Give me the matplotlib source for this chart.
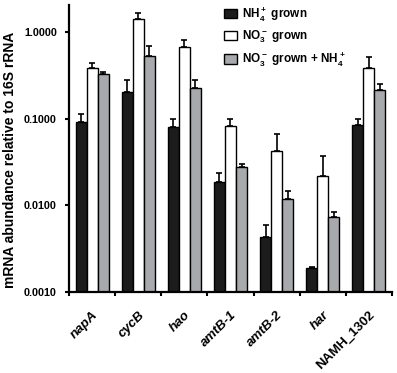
import numpy as np
import matplotlib
matplotlib.use("Agg")
import matplotlib.pyplot as plt

plt.rcParams['font.family'] = ['Liberation Sans', 'DejaVu Sans']
plt.rcParams['font.weight'] = 'bold'
plt.rcParams['mathtext.fontset'] = 'custom'
plt.rcParams['mathtext.bf'] = 'Liberation Sans:bold'
plt.rcParams['mathtext.rm'] = 'Liberation Sans:bold'
plt.rcParams['mathtext.default'] = 'bf'

genes = ['napA', 'cycB', 'hao', 'amtB-1', 'amtB-2', 'har', 'NAMH_1302']
italic = [True, True, True, True, True, True, False]

nh4 = [0.092, 0.203, 0.081, 0.0188, 0.00428, 0.00188, 0.0846]
nh4_err = [0.113, 0.277, 0.100, 0.0234, 0.00594, 0.00193, 0.100]
no3 = [0.388, 1.41, 0.677, 0.0824, 0.0428, 0.0218, 0.388]
no3_err = [0.44, 1.64, 0.808, 0.100, 0.066, 0.037, 0.52]
mix = [0.328, 0.53, 0.224, 0.028, 0.0119, 0.0073, 0.214]
mix_err = [0.343, 0.695, 0.28, 0.030, 0.0147, 0.0084, 0.25]

labels = [r'NH$_4^+$ grown', r'NO$_3^-$ grown', r'NO$_3^-$ grown + NH$_4^+$']
colors = ['#1c1c1c', '#ffffff', '#a7a9ac']

fig = plt.figure(figsize=(3.97, 3.73), dpi=100)
ax = fig.add_axes([0.174, 0.217, 0.813, 0.770])

x = np.arange(len(genes)) + 0.5
w = 0.24
for k, (vals, tops, c, lab) in enumerate(zip([nh4, no3, mix], [nh4_err, no3_err, mix_err], colors, labels)):
    xs = x + (k - 1) * w
    vals = np.array(vals)
    up = np.array(tops) - vals
    ax.bar(xs, vals, width=w, color=c, edgecolor='black', linewidth=1.0,
           label=lab, zorder=2)
    ax.errorbar(xs, vals, yerr=[np.zeros_like(up), up], fmt='none',
                ecolor='black', elinewidth=1.2, capsize=2.5, capthick=1.2, zorder=1)

ax.set_yscale('log')
ax.set_ylim(0.001, 2.05)
ax.set_xlim(0, len(genes))
ax.set_yticks([0.001, 0.01, 0.1, 1.0])
ax.set_yticklabels(['0.0010', '0.0100', '0.1000', '1.0000'])
ax.yaxis.set_minor_locator(matplotlib.ticker.NullLocator())
ax.set_xticks(np.arange(len(genes) + 1))
ax.set_xticklabels([])
ax.set_xticks(x, minor=True)
ax.set_xticklabels(genes, minor=True, rotation=45, ha='right', rotation_mode='anchor')
for t, it in zip(ax.get_xticklabels(minor=True), italic):
    if it:
        t.set_style('italic')
ax.tick_params(axis='x', which='minor', length=0, pad=12, labelsize=9.5)
ax.tick_params(axis='x', which='major', length=3, width=1.5, direction='out')
ax.tick_params(axis='y', which='major', length=3, width=1.5, direction='out',
               labelsize=7.8, pad=5.8)

for s in ['top', 'right']:
    ax.spines[s].set_visible(False)
for s in ['left', 'bottom']:
    ax.spines[s].set_linewidth(1.6)

ax.set_ylabel('mRNA abundance relative to 16S rRNA', fontsize=10, fontweight='bold')
ax.yaxis.set_label_coords(-0.16, 0.46)

ax.legend(loc='upper left', bbox_to_anchor=(0.543, 1.008), bbox_transform=fig.transFigure,
          frameon=False, fontsize=8.5, handlelength=1.1, handleheight=0.85,
          labelspacing=0.45, handletextpad=0.45, borderpad=0.2)

fig.savefig('out.png', dpi=100)
